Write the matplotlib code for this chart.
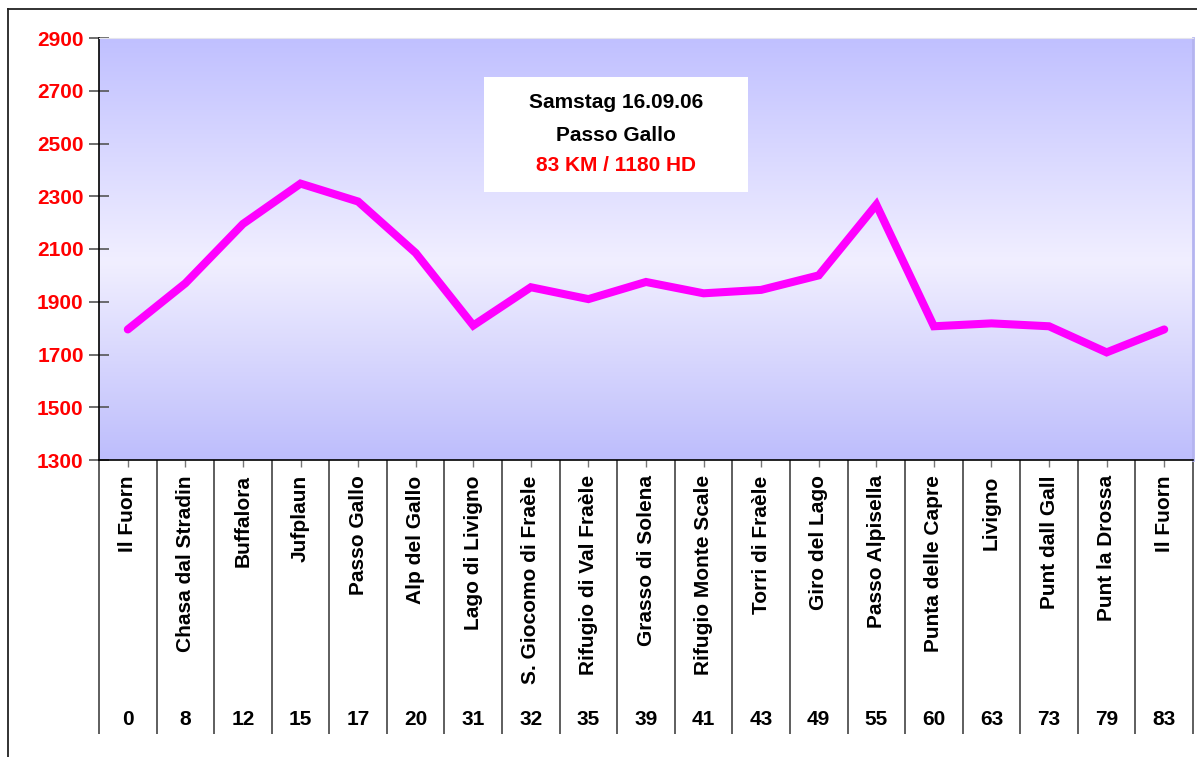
import matplotlib
matplotlib.use('Agg')
import matplotlib.pyplot as plt
import numpy as np
from matplotlib.colors import LinearSegmentedColormap
from matplotlib.lines import Line2D

plt.rcParams['font.family'] = ['Liberation Sans', 'DejaVu Sans']

# route data
places = ["Il Fuorn", "Chasa dal Stradin", "Buffalora", "Jufplaun", "Passo Gallo",
          "Alp del Gallo", "Lago di Livigno", "S. Giocomo di Fraèle",
          "Rifugio di Val Fraèle", "Grasso di Solena", "Rifugio Monte Scale",
          "Torri di Fraèle", "Giro del Lago", "Passo Alpisella", "Punta delle Capre",
          "Livigno", "Punt dall Gall", "Punt la Drossa", "Il Fuorn"]
km = [0, 8, 12, 15, 17, 20, 31, 32, 35, 39, 41, 43, 49, 55, 60, 63, 73, 79, 83]
altitude = [1795, 1970, 2195, 2348, 2280, 2085, 1810, 1955, 1910, 1975, 1932,
            1945, 2000, 2268, 1807, 1818, 1807, 1708, 1795]
y_ticks = [1300, 1500, 1700, 1900, 2100, 2300, 2500, 2700, 2900]

W, H = 1197, 757
fig = plt.figure(figsize=(W / 100, H / 100), dpi=100)
fig.patch.set_facecolor('white')

# outer chart border (cropped at right and bottom)
fig.add_artist(Line2D([8 / W, 1.0], [1 - 9 / H, 1 - 9 / H], color='#222222', lw=1.3))
fig.add_artist(Line2D([8 / W, 8 / W], [0.0, 1 - 9 / H], color='#222222', lw=1.3))

left, right, top, bottom = 99, 1193, 38, 460
ax = fig.add_axes([left / W, 1 - bottom / H, (right - left) / W, (bottom - top) / H])

# gradient background
cmap = LinearSegmentedColormap.from_list(
    'bg', [(0.0, '#BDBDFC'), (0.47, '#F1EFFF'), (1.0, '#C0C0FF')])
grad = np.linspace(0, 1, 256).reshape(-1, 1)
ax.imshow(grad, cmap=cmap, aspect='auto', extent=[0, 1, 0, 1],
          transform=ax.transAxes, origin='lower', zorder=0)

x = np.arange(len(places))
ax.plot(x, altitude, color='#FF00FF', lw=5.8, solid_capstyle='round',
        solid_joinstyle='miter', zorder=3)

ax.set_xlim(-0.5, len(places) - 0.5)
ax.set_ylim(1300, 2900)

ax.set_yticks(y_ticks)
ax.set_yticklabels([str(v) for v in y_ticks], color='red', fontweight='bold', fontsize=15)
ax.tick_params(axis='y', direction='inout', length=14, width=1.2, color='#555555', pad=4)

ax.set_xticks(x)
ax.set_xticklabels(places, rotation=90, fontweight='bold', fontsize=15, va='top')
ax.tick_params(axis='x', direction='out', length=5, width=1, color='#777777', pad=6)

for s in ['left', 'bottom']:
    ax.spines[s].set_color('black')
    ax.spines[s].set_linewidth(1.2)
ax.spines['top'].set_color('#E4E4EC')
ax.spines['right'].set_color('#B4B4F0')
ax.spines['right'].set_linewidth(2)

# separators between categories and km row
trans = ax.get_xaxis_transform()
bounds = np.arange(len(places) + 1) - 0.5
ax.vlines(bounds, -0.649, 0, transform=trans, colors='#333333', lw=1.1, clip_on=False)
for xi, k in zip(x, km):
    ax.text(xi, -0.614, str(k), transform=trans, ha='center', va='center',
            fontsize=15, fontweight='bold', color='black')

# title box
ax.add_patch(plt.Rectangle((0.352, 0.635), 0.241, 0.2725, transform=ax.transAxes,
                           facecolor='white', edgecolor='none', zorder=4))
ax.text(0.4726, 0.846, "Samstag 16.09.06", transform=ax.transAxes, ha='center',
        va='center', fontsize=15, fontweight='bold', zorder=5)
ax.text(0.4726, 0.768, "Passo Gallo", transform=ax.transAxes, ha='center',
        va='center', fontsize=15, fontweight='bold', zorder=5)
ax.text(0.4726, 0.699, "83 KM / 1180 HD", transform=ax.transAxes, ha='center',
        va='center', fontsize=15, fontweight='bold', color='red', zorder=5)

fig.savefig('out.png', dpi=100, facecolor='white')
